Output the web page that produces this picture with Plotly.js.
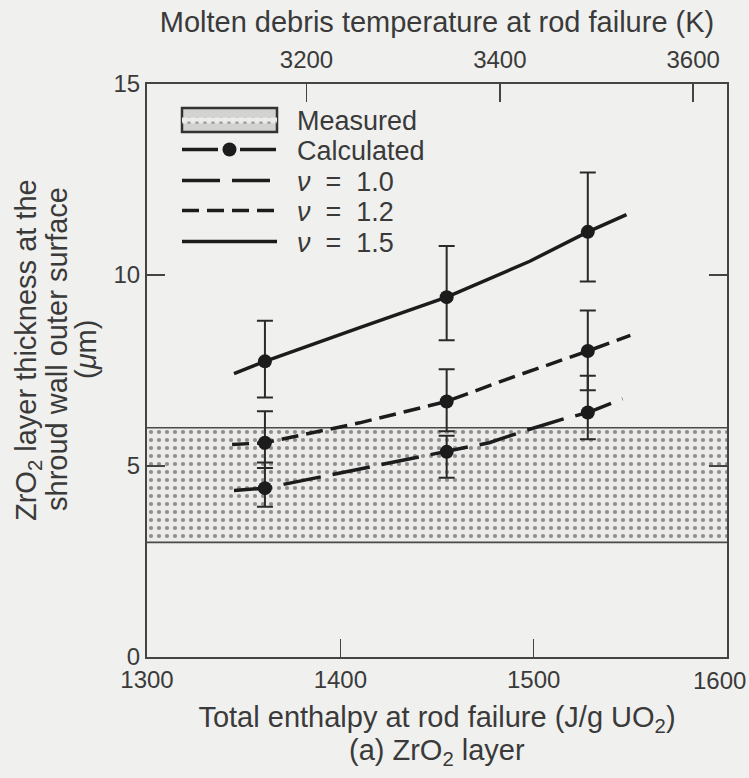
<!DOCTYPE html>
<html>
<head>
<meta charset="utf-8">
<script src="https://cdn.plot.ly/plotly-3.0.1.min.js"></script>
<style>html,body{margin:0;padding:0;background:#f0f0ee;}</style>
</head>
<body>
<div id="chart" style="width:749px;height:778px;"></div>
<script>
// ---- data ----
const enthalpyTicks = [1300, 1400, 1500, 1600];
const tempTicks = [3200, 3400, 3600];
const thicknessTicks = [0, 5, 10, 15];

// measured ZrO2 thickness band (um)
const measuredX = [1300, 1600, 1600, 1300, 1300];
const measuredY = [3, 3, 6, 6, 3];
const measuredEdgeX = [1300, 1600];
const measuredLow = [3, 3];
const measuredHigh = [6, 6];

// calculated points (J/g UO2)
const calcX = [1361, 1455, 1528];
const calcNu10 = [4.42, 5.37, 6.40];
const calcNu10Hi = [5.09, 5.79, 7.36];
const calcNu10Lo = [3.93, 4.69, 5.70];
const calcNu12 = [5.61, 6.69, 8.01];
const calcNu12Hi = [6.43, 7.53, 9.07];
const calcNu12Lo = [4.95, 5.91, 6.98];
const calcNu15 = [7.74, 9.42, 11.13];
const calcNu15Hi = [8.80, 10.76, 12.68];
const calcNu15Lo = [6.79, 8.29, 9.83];

// model curves
const nu10X = [1345, 1361, 1407, 1455, 1477, 1496, 1516, 1528, 1546];
const nu10Y = [4.36, 4.42, 4.89, 5.37, 5.61, 5.93, 6.24, 6.40, 6.76];
const nu12X = [1344, 1361, 1410, 1455, 1486, 1510, 1528, 1550];
const nu12Y = [5.56, 5.61, 6.13, 6.69, 7.27, 7.68, 8.01, 8.42];
const nu15X = [1345, 1361, 1410, 1455, 1498, 1528, 1548];
const nu15Y = [7.42, 7.74, 8.62, 9.42, 10.36, 11.13, 11.58];

// temperature (K) at enthalpy 1300 and 1600 J/g UO2 (top axis)
const tempRange = [3035, 3635];

// ---- build traces ----
const ink = '#1c1c1c';
const txt = '#3a3a3a';
const edge = '#4a4a4a';
const F = (size) => ({family: 'Liberation Sans, Arial, sans-serif', color: txt, size: size});
const pad = '\u00a0\u00a0';
const dots = {shape: '.', bgcolor: '#ecebea', fgcolor: '#8e8e8e', size: 8, solidity: 0.22};

const cx = [], cy = [], cHi = [], cLo = [];
[[calcNu10, calcNu10Hi, calcNu10Lo], [calcNu12, calcNu12Hi, calcNu12Lo], [calcNu15, calcNu15Hi, calcNu15Lo]].forEach(([v, hi, lo]) => {
  for (let i = 0; i < calcX.length; i++) {
    cx.push(calcX[i]); cy.push(v[i]);
    cHi.push(hi[i] - v[i]); cLo.push(v[i] - lo[i]);
    cx.push(null); cy.push(null); cHi.push(null); cLo.push(null);
  }
});

const traces = [
  {x: measuredX, y: measuredY, mode: 'lines', name: pad + 'Measured', fill: 'toself', legend: 'legend',
   line: {color: edge, width: 0}, fillcolor: '#e2e2e0', fillpattern: dots},
  {x: measuredEdgeX, y: measuredLow, mode: 'lines', showlegend: false, line: {color: edge, width: 1.6}},
  {x: measuredEdgeX, y: measuredHigh, mode: 'lines', showlegend: false, line: {color: edge, width: 1.6}},
  {x: cx, y: cy, mode: 'lines+markers', name: pad + 'Calculated', connectgaps: false, legend: 'legend2',
   line: {color: ink, width: 3.5, dash: '36px,22px'},
   marker: {color: ink, size: 14},
   error_y: {type: 'data', symmetric: false, array: cHi, arrayminus: cLo, color: '#2a2a2a', thickness: 2, width: 8}},
  {x: nu10X, y: nu10Y, mode: 'lines', name: pad + '<i>ν</i>  =  1.0', legend: 'legend3',
   line: {color: ink, width: 3.5, dash: '38px,12px'}},
  {x: nu12X, y: nu12Y, mode: 'lines', name: pad + '<i>ν</i>  =  1.2', legend: 'legend4',
   line: {color: ink, width: 3.5, dash: '17px,8px'}},
  {x: nu15X, y: nu15Y, mode: 'lines', name: pad + '<i>ν</i>  =  1.5', legend: 'legend5',
   line: {color: ink, width: 3.5}},
  {x: [], y: [], xaxis: 'x2', showlegend: false, hoverinfo: 'skip'}
];

const plotL = 147, plotR = 727, plotT = 84, plotB = 657;
const px2x = (p) => (p - plotL) / (plotR - plotL);
const py2y = (p) => (plotB - p) / (plotB - plotT);

const legendLeft = 177, legendRows = [120, 150, 181, 211, 242];
function legendAt(py) {
  return {x: px2x(legendLeft), y: py2y(py), xanchor: 'left', yanchor: 'middle',
          bgcolor: 'rgba(0,0,0,0)', itemwidth: 95, font: F(27)};
}

const layout = {
  width: 749, height: 778,
  paper_bgcolor: '#f0f0ee', plot_bgcolor: '#f0f0ee',
  font: F(24),
  margin: {l: plotL, r: 749 - plotR, t: plotT, b: 778 - plotB, autoexpand: false},
  showlegend: true,
  legend: legendAt(legendRows[0]),
  legend2: legendAt(legendRows[1]),
  legend3: legendAt(legendRows[2]),
  legend4: legendAt(legendRows[3]),
  legend5: legendAt(legendRows[4]),
  xaxis: {range: [1300, 1600], tickvals: enthalpyTicks, ticktext: ['1300', '1400', '1500', ''],
          ticks: 'inside', ticklen: 18, tickwidth: 1.5, tickcolor: '#444',
          showline: true, linecolor: '#444', linewidth: 2, mirror: true,
          showgrid: false, zeroline: false,
          tickfont: F(24),
          title: {text: 'Total enthalpy at rod failure (J/g UO<sub>2</sub>)', font: F(29), standoff: 15}},
  xaxis2: {overlaying: 'x', side: 'top', anchor: 'y', range: tempRange,
           tickvals: tempTicks, ticktext: tempTicks.map(String),
           ticks: 'inside', ticklen: 18, tickwidth: 1.5, tickcolor: '#444',
           showline: true, linecolor: '#444', linewidth: 2,
           showgrid: false, zeroline: false, ticklabelstandoff: 4,
           tickfont: F(24),
           title: {text: 'Molten debris temperature at rod failure (K)', font: F(29), standoff: 5}},
  yaxis: {range: [0, 15], tickvals: thicknessTicks, ticktext: thicknessTicks.map(String),
          ticks: 'inside', ticklen: 18, tickwidth: 1.5, tickcolor: '#444',
          showline: true, linecolor: '#444', linewidth: 2, mirror: 'ticks',
          showgrid: false, zeroline: false,
          tickfont: F(24)},
  shapes: [
    // legend key box for "Measured"
    {type: 'rect', xref: 'paper', yref: 'paper', layer: 'above',
     x0: px2x(legendLeft + 5), x1: px2x(legendLeft + 100),
     y0: py2y(legendRows[0] + 12), y1: py2y(legendRows[0] - 12),
     fillcolor: '#d2d2d0', line: {color: '#333', width: 2.5}}
  ],
  annotations: [
    {text: enthalpyTicks[3].toString(), xref: 'x', yref: 'paper', x: enthalpyTicks[3], y: 0,
     xanchor: 'right', yanchor: 'top', xshift: 21, yshift: -8, showarrow: false, font: F(24)},
    {text: 'ZrO<sub>2</sub> layer thickness at the', xref: 'paper', yref: 'paper', x: px2x(28), y: py2y(350),
     xanchor: 'center', yanchor: 'middle', textangle: -90, showarrow: false, font: F(29)},
    {text: 'shroud wall outer surface', xref: 'paper', yref: 'paper', x: px2x(57), y: py2y(349),
     xanchor: 'center', yanchor: 'middle', textangle: -90, showarrow: false, font: F(29)},
    {text: '(<i>μ</i>m)', xref: 'paper', yref: 'paper', x: px2x(86), y: py2y(350),
     xanchor: 'center', yanchor: 'middle', textangle: -90, showarrow: false, font: F(29)},
    {text: '(a) ZrO<sub>2</sub> layer', xref: 'paper', yref: 'paper', x: 0.5, y: py2y(752),
     xanchor: 'center', yanchor: 'middle', showarrow: false, font: F(29)}
  ]
};

Plotly.newPlot('chart', traces, layout, {displayModeBar: false, staticPlot: true});
</script>
</body>
</html>
